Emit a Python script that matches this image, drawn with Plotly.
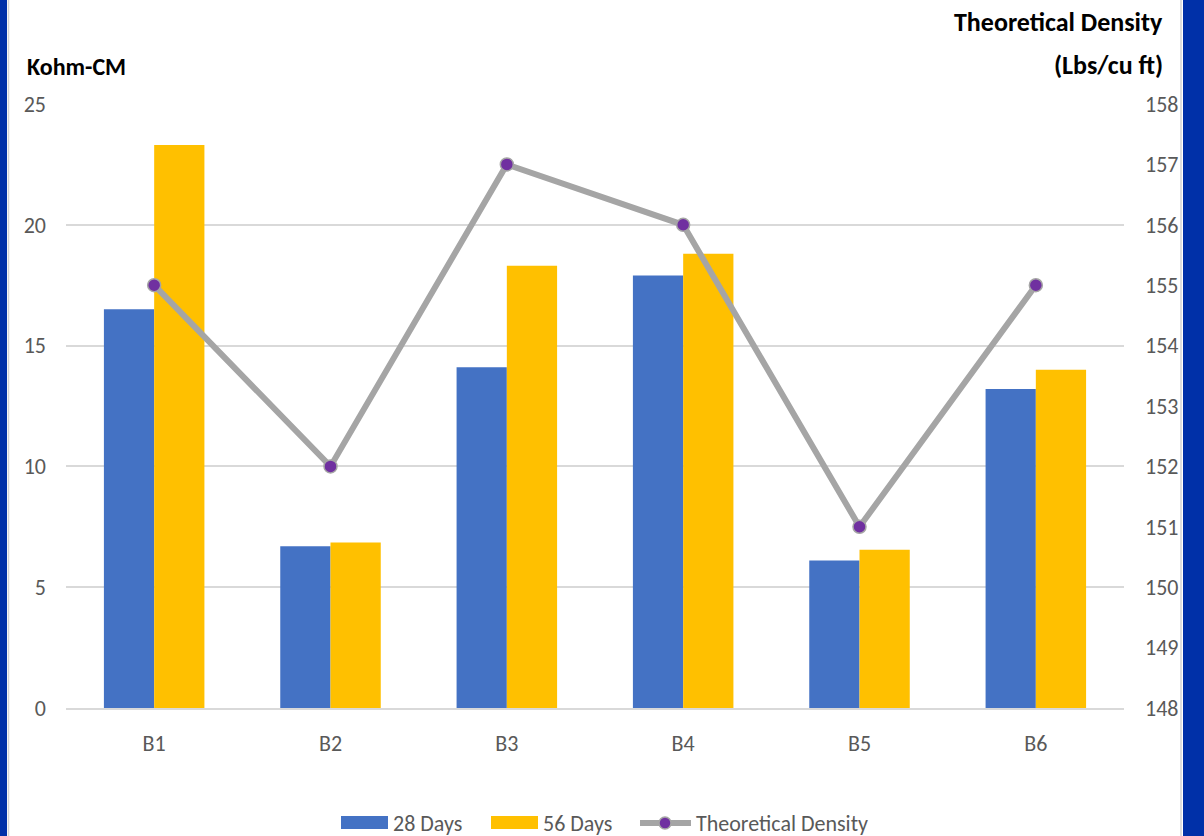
import plotly.graph_objects as go
from plotly.subplots import make_subplots

# Chart data
categories = ["B1", "B2", "B3", "B4", "B5", "B6"]
days_28 = [16.5, 6.7, 14.1, 17.9, 6.1, 13.2]
days_56 = [23.3, 6.85, 18.3, 18.8, 6.55, 14.0]
density = [155, 152, 157, 156, 151, 155]

series_names = ["28 Days", "56 Days", "Theoretical Density"]
left_ticks = [0, 5, 10, 15, 20, 25]
right_ticks = [148, 149, 150, 151, 152, 153, 154, 155, 156, 157, 158]

# Styling
W, H = 1204, 836
L, R, T, B = 66, 80, 104, 128
BLUE = "#4472C4"
GOLD = "#FFC000"
GRAY_LINE = "#A5A5A5"
PURPLE = "#7030A0"
FRAME = "#0030A8"
FONT = "Carlito, Lato, sans-serif"
TICK_COLOR = "#595959"

pw, ph = W - L - R, H - T - B


def px(x):
    return (x - L) / pw


def py(y):
    return (H - B - y) / ph


fig = make_subplots(specs=[[{"secondary_y": True}]])

fig.add_trace(go.Bar(x=categories, y=days_28, name=series_names[0],
                     marker=dict(color=BLUE, line=dict(width=0))),
              secondary_y=False)
fig.add_trace(go.Bar(x=categories, y=days_56, name=series_names[1],
                     marker=dict(color=GOLD, line=dict(width=0))),
              secondary_y=False)
fig.add_trace(go.Scatter(x=categories, y=density, name=series_names[2],
                         mode="lines+markers",
                         line=dict(color=GRAY_LINE, width=6),
                         marker=dict(color=PURPLE, size=13,
                                     line=dict(color=GRAY_LINE, width=1.5))),
              secondary_y=True)

fig.update_layout(
    width=W, height=H,
    margin=dict(l=L, r=R, t=T, b=B),
    paper_bgcolor="white", plot_bgcolor="white",
    barmode="group", bargap=0.43, bargroupgap=0,
    showlegend=False,
    font=dict(family=FONT, size=22, color=TICK_COLOR),
)

fig.update_xaxes(
    type="category", domain=[0, 1], showgrid=False, showline=True,
    linecolor="#D9D9D9", linewidth=2, ticks="",
    tickfont=dict(size=22, color=TICK_COLOR), ticklabelstandoff=15,
)
fig.update_yaxes(
    range=[0, 25], tickvals=left_ticks, showgrid=True, gridcolor="#D9D9D9",
    gridwidth=2, zeroline=False, showline=False, ticks="",
    tickfont=dict(size=22, color=TICK_COLOR), ticklabelstandoff=19,
    secondary_y=False,
)
fig.update_yaxes(
    range=[148, 158], tickvals=right_ticks, showgrid=False, zeroline=False,
    showline=False, ticks="", tickfont=dict(size=22, color=TICK_COLOR),
    ticklabelstandoff=20, secondary_y=True,
)

annotations = [
    dict(text="<b>Kohm-CM</b>", x=px(25), y=py(66), xanchor="left",
         yanchor="middle", font=dict(size=24, color="black", family=FONT)),
    dict(text="<b>Theoretical Density</b>", x=px(1165), y=py(22),
         xanchor="right", yanchor="middle",
         font=dict(size=26, color="black", family=FONT)),
    dict(text="<b>(Lbs/cu ft)</b>", x=px(1165), y=py(65),
         xanchor="right", yanchor="middle",
         font=dict(size=26, color="black", family=FONT)),
]

shapes = [
    # blue frame edges
    dict(type="rect", xref="paper", yref="paper", x0=px(0), x1=px(7),
         y0=py(H), y1=py(0), fillcolor=FRAME, line=dict(width=0), layer="above"),
    dict(type="rect", xref="paper", yref="paper", x0=px(1183), x1=px(W),
         y0=py(H), y1=py(0), fillcolor=FRAME, line=dict(width=0), layer="above"),
    dict(type="line", xref="paper", yref="paper", x0=px(8.5), x1=px(8.5),
         y0=py(H), y1=py(0), line=dict(color="#D4D4D4", width=1.5)),
    dict(type="line", xref="paper", yref="paper", x0=px(1181), x1=px(1181),
         y0=py(H), y1=py(0), line=dict(color="#D4D4D4", width=1.5)),
]

# legend: swatches and labels along the bottom
legend_y = 823
shapes += [
    dict(type="rect", xref="paper", yref="paper", x0=px(341), x1=px(388),
         y0=py(829), y1=py(816), fillcolor=BLUE, line=dict(width=0)),
    dict(type="rect", xref="paper", yref="paper", x0=px(491), x1=px(538),
         y0=py(829), y1=py(816), fillcolor=GOLD, line=dict(width=0)),
    dict(type="line", xref="paper", yref="paper", x0=px(640), x1=px(691),
         y0=py(legend_y), y1=py(legend_y),
         line=dict(color=GRAY_LINE, width=6)),
    dict(type="circle", xref="paper", yref="paper", x0=px(659), x1=px(671),
         y0=py(legend_y + 6), y1=py(legend_y - 6), fillcolor=PURPLE,
         line=dict(color=GRAY_LINE, width=1.5)),
]
for label, xl in zip(series_names, [391, 541, 694]):
    annotations.append(dict(text=label, x=px(xl), y=py(legend_y),
                            xanchor="left", yanchor="middle",
                            font=dict(size=22, color=TICK_COLOR, family=FONT)))

for a in annotations:
    a.update(xref="paper", yref="paper", showarrow=False)

fig.update_layout(annotations=annotations, shapes=shapes)

fig.write_html("out.html")
